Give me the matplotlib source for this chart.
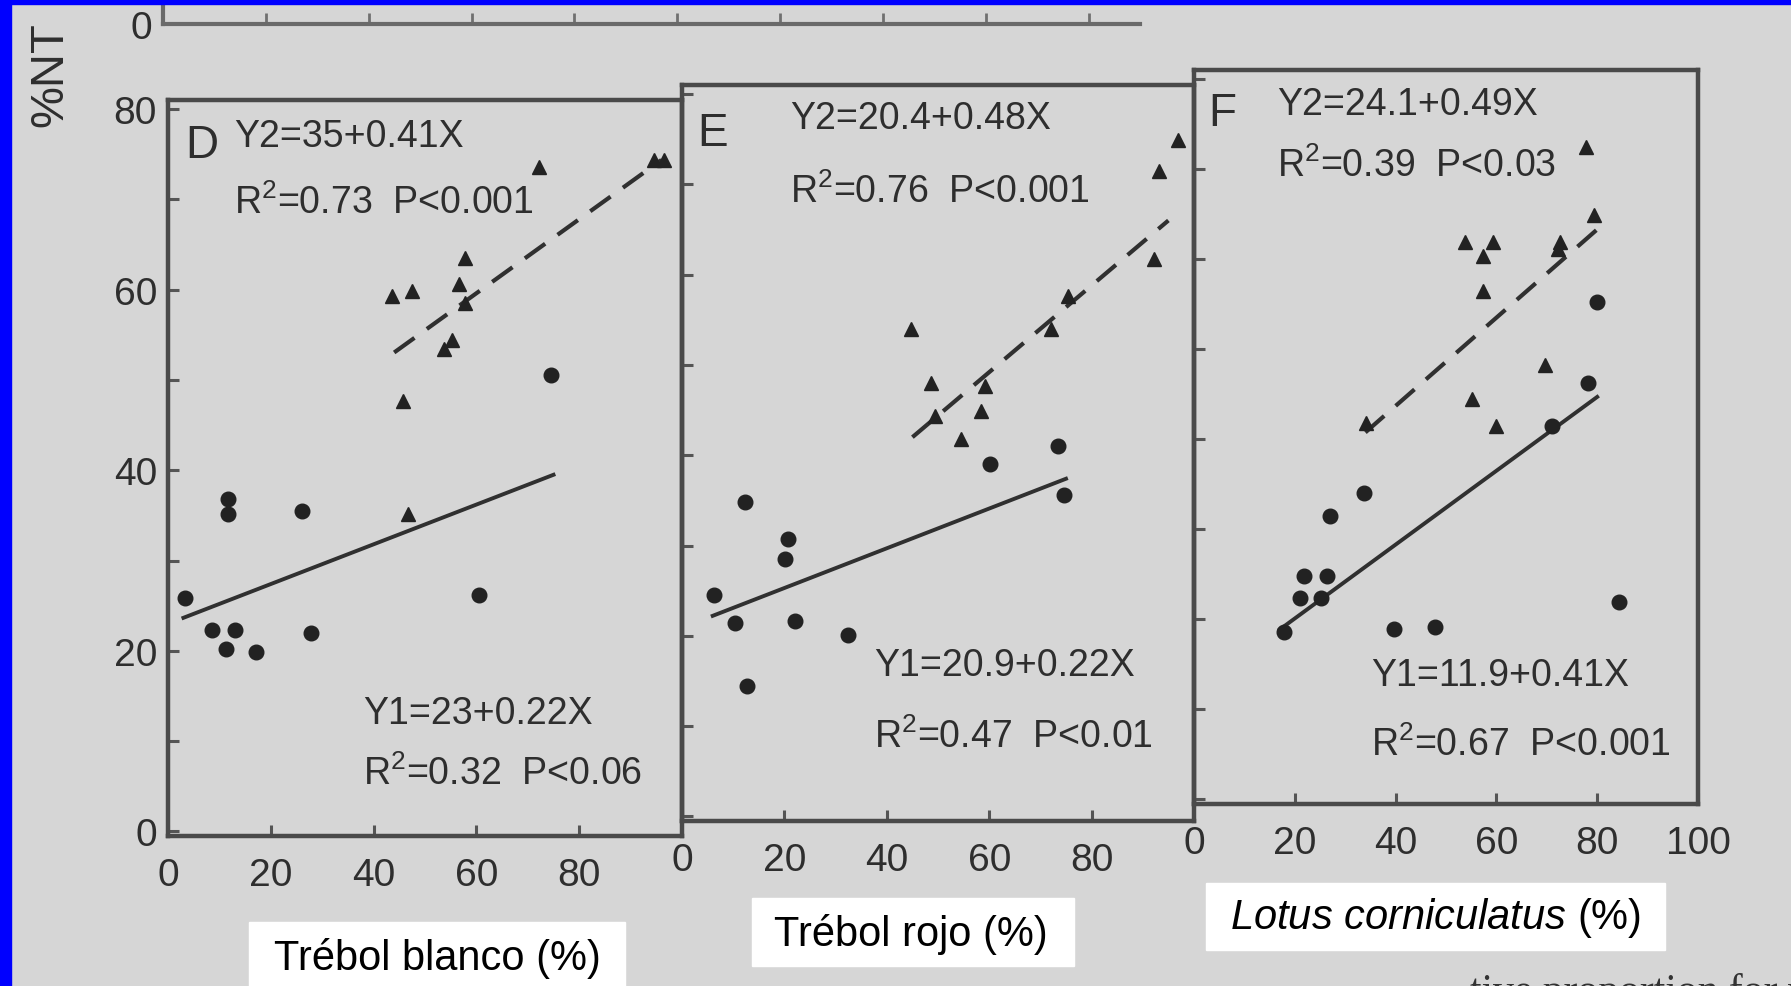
import matplotlib
matplotlib.use('Agg')
import matplotlib.pyplot as plt
from matplotlib.patches import Rectangle
import numpy as np

plt.rcParams['font.family'] = ['Liberation Sans', 'DejaVu Sans']
plt.rcParams['mathtext.fontset'] = 'custom'
plt.rcParams['mathtext.rm'] = 'Liberation Sans'
plt.rcParams['mathtext.it'] = 'Liberation Sans:italic'
plt.rcParams['mathtext.default'] = 'regular'
plt.rcParams['lines.scale_dashes'] = False

W, H = 1791, 987
INK = '#2e2e2e'
PAPER = '#d6d6d6'

# --- data (x = % clover, y = %NT) ---
# panel D, trebol blanco
d_y1_x = [3.4, 8.6, 13.1, 11.3, 17.2, 27.8, 11.7, 11.7, 26.1, 60.5, 74.6]
d_y1_y = [25.9, 22.3, 22.3, 20.2, 19.9, 22.0, 36.8, 35.2, 35.5, 26.2, 50.5]
d_y2_x = [72.2, 94.5, 96.5, 57.7, 43.6, 47.4, 56.7, 57.7, 53.6, 55.3, 45.7, 46.7]
d_y2_y = [73.6, 74.4, 74.4, 63.5, 59.3, 59.8, 60.6, 58.5, 53.4, 54.4, 47.7, 35.2]

# panel E, trebol rojo
e_y1_x = [6.2, 10.4, 12.3, 12.7, 20.8, 20.1, 22.1, 32.5, 60.1, 73.4, 74.7]
e_y1_y = [24.5, 21.4, 34.8, 14.4, 30.7, 28.5, 21.6, 20.1, 39.0, 41.0, 35.6]
e_y2_x = [44.8, 48.7, 49.4, 59.1, 58.4, 54.5, 72.1, 75.3, 92.2, 93.2, 96.8]
e_y2_y = [54.0, 48.0, 44.4, 47.7, 44.9, 41.8, 54.0, 57.6, 61.7, 71.5, 74.9]

# panel F, lotus
f_y1_x = [17.8, 21.9, 26.3, 21.1, 25.2, 27.0, 33.7, 39.6, 47.8, 80.0, 78.1, 71.1, 84.4]
f_y1_y = [18.6, 24.8, 24.8, 22.4, 22.4, 31.5, 34.0, 18.9, 19.2, 55.2, 46.3, 41.5, 21.9]
f_y2_x = [77.8, 79.3, 72.6, 72.2, 53.7, 59.3, 57.4, 57.4, 69.6, 55.2, 60.0, 34.1]
f_y2_y = [72.4, 64.9, 61.9, 61.1, 61.9, 61.9, 60.3, 56.5, 48.2, 44.5, 41.5, 41.8]

# regression lines: intercept, slope, x extent
d_fit1, d_fit2 = (23.0, 0.22, [3, 75]), (35.0, 0.41, [44, 96])
e_fit1, e_fit2 = (20.9, 0.22, [6, 75]), (20.4, 0.48, [45, 95])
f_fit1, f_fit2 = (11.9, 0.41, [17, 80]), (24.1, 0.49, [34, 80])

d_text = ['Y2=35+0.41X', 'R$^2$=0.73  P<0.001', 'Y1=23+0.22X', 'R$^2$=0.32  P<0.06']
e_text = ['Y2=20.4+0.48X', 'R$^2$=0.76  P<0.001', 'Y1=20.9+0.22X', 'R$^2$=0.47  P<0.01']
f_text = ['Y2=24.1+0.49X', 'R$^2$=0.39  P<0.03', 'Y1=11.9+0.41X', 'R$^2$=0.67  P<0.001']

x_labels = ['Trébol blanco (%)', 'Trébol rojo (%)', '$\\it{Lotus\\ corniculatus}$ (%)']


def px(x, y):
    return x / W, 1 - y / H


fig = plt.figure(figsize=(W / 100, H / 100), dpi=100, facecolor=PAPER)

# blue frame of the slide
fig.patches.append(Rectangle((0, 0), 11 / W, 1, transform=fig.transFigure, color='#0000ff', zorder=5))
fig.patches.append(Rectangle((0, 1 - 5 / H), 1, 5 / H, transform=fig.transFigure, color='#0000ff', zorder=5))

# remnant of the upper panel
top = fig.add_axes([163 / W, 1 - 25 / H, (1140 - 163) / W, 80 / H])
top.set_facecolor('none')
top.set_xlim(0, 190)
top.set_ylim(0, 10)
top.set_yticks([0])
top.set_xticks(np.arange(20, 190, 20))
top.set_xticklabels([])
top.tick_params(direction='in', length=8, width=2, colors='#707070', labelsize=28, labelcolor=INK, pad=8)
for s in ['top', 'right']:
    top.spines[s].set_visible(False)
for s in ['bottom', 'left']:
    top.spines[s].set_color('#6a6a6a')
    top.spines[s].set_linewidth(3)

# three panels, each placed a little higher to follow the tilt of the scan
boxes = [(168, 682, 101, 837), (682, 1194, 86, 822), (1194, 1698, 71, 805)]
panels = [
    ('D', d_y1_x, d_y1_y, d_y2_x, d_y2_y, d_fit1, d_fit2),
    ('E', e_y1_x, e_y1_y, e_y2_x, e_y2_y, e_fit1, e_fit2),
    ('F', f_y1_x, f_y1_y, f_y2_x, f_y2_y, f_fit1, f_fit2),
]

for i, ((l, r, t, b), (name, cx, cy, tx, ty, fit1, fit2)) in enumerate(zip(boxes, panels)):
    ax = fig.add_axes([l / W, 1 - b / H, (r - l) / W, (b - t) / H])
    ax.set_facecolor('none')
    ax.set_xlim(0, 100)
    ax.set_ylim(-0.5, 81)
    ax.plot(cx, cy, 'o', color='#222222', markersize=10.5, zorder=3)
    ax.plot(tx, ty, '^', color='#222222', markersize=10.5, zorder=3)
    a, k, xr = fit1
    xr = np.array(xr)
    ax.plot(xr, a + k * xr, '-', color='#303030', lw=2.8)
    a, k, xr = fit2
    xr = np.array(xr)
    ax.plot(xr, a + k * xr, '-', color='#303030', lw=3.0, dashes=(18, 11))

    ax.set_xticks([0, 20, 40, 60, 80, 100] if i == 2 else [0, 20, 40, 60, 80])
    ax.set_yticks([0, 10, 20, 30, 40, 50, 60, 70, 80])
    if i == 0:
        ax.set_yticklabels(['0', '', '20', '', '40', '', '60', '', '80'])
    else:
        ax.set_yticklabels([])
    ax.tick_params(axis='both', direction='in', length=8, width=2.2, colors='#555555',
                   labelsize=28, labelcolor=INK)
    ax.tick_params(axis='x', pad=15)
    ax.tick_params(axis='y', pad=8)
    for s in ax.spines.values():
        s.set_color('#4a4a4a')
        s.set_linewidth(3.2)

# panel letters and fit statistics
letters = [('D', 185, 146), ('E', 697, 134), ('F', 1208, 114)]
for s, x, y in letters:
    fig.text(*px(x, y), s, fontsize=33, color=INK, ha='left', va='center')

text_pos = [
    (d_text, [(234, 137), (234, 203), (363, 714), (363, 774)]),
    (e_text, [(790, 119), (790, 192), (874, 666), (874, 737)]),
    (f_text, [(1277, 105), (1277, 166), (1371, 676), (1371, 745)]),
]
for lines, pos in text_pos:
    for s, (x, y) in zip(lines, pos):
        fig.text(*px(x, y), s, fontsize=27, color=INK, ha='left', va='center')

# y axis label, clipped at the top like in the scan
fig.text(*px(50, 127), '%NT', fontsize=34, color=INK, rotation=90, ha='center', va='bottom')

# white boxes with the x axis titles
label_boxes = [(249, 625, 923, 995, 437, 959), (752, 1074, 899, 967, 911, 935), (1206, 1665, 884, 951, 1436, 918)]
for j, (x0, x1, y0, y1, xc, yc) in enumerate(label_boxes):
    fig.patches.append(Rectangle(px(x0, y1), (x1 - x0) / W, (y1 - y0) / H,
                                 transform=fig.transFigure, color='white', zorder=4))
    fig.text(*px(xc, yc), x_labels[j], fontsize=30, ha='center', va='center', color='black', zorder=6)

# cut off caption line at the bottom of the scan
fig.text(*px(1470, 973), 'tive proportion for white clover', fontsize=30, color='#333333',
         family='Liberation Serif', ha='left', va='top')

fig.savefig('out.png', dpi=100, facecolor=PAPER)
